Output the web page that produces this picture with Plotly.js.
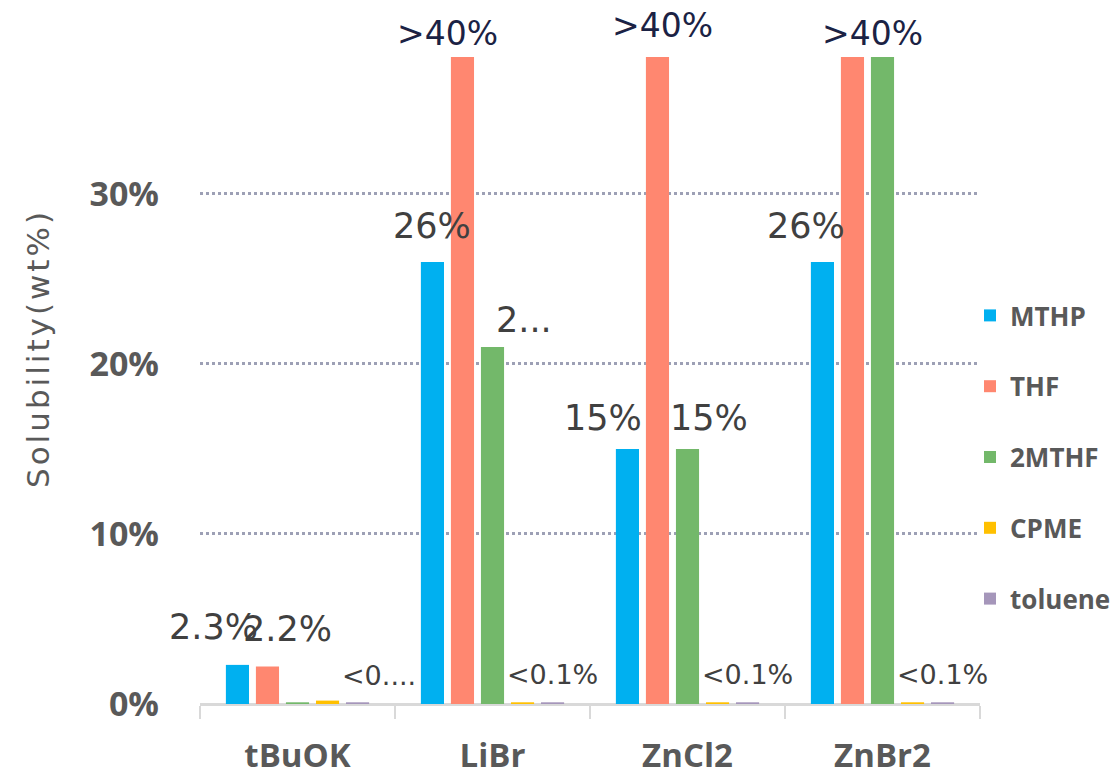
<!DOCTYPE html>
<html>
<head>
<meta charset="utf-8">
<script src="https://cdn.plot.ly/plotly-3.0.1.min.js"></script>
<style>
html,body{margin:0;padding:0;background:#fff;}
#chart{width:1112px;height:774px;}
.ytitle{letter-spacing:3px;}
.g-ytitle{transform:translate(0px,-32px);}
</style>
</head>
<body>
<div id="chart"></div>
<script>
// ---- data ----
const categories = ['tBuOK', 'LiBr', 'ZnCl2', 'ZnBr2'];
const seriesNames = ['MTHP', 'THF', '2MTHF', 'CPME', 'toluene'];
const mthp    = [2.3, 26, 15, 26];
const thf     = [2.2, 40, 40, 40];
const mthf2   = [0.1, 21, 15, 40];
const cpme    = [0.2, 0.1, 0.1, 0.1];
const toluene = [0.1, 0.1, 0.1, 0.1];
const mthpLabels    = ['2.3%', '26%', '15%', '26%'];
const thfLabels     = ['2.2%', '', '', ''];
const mthf2Labels   = ['', '2...', '15%', ''];
const cpmeLabels    = ['', '', '', ''];
const tolueneLabels = ['<0....', '<0.1%', '<0.1%', '<0.1%'];
const overLabels    = ['', '>40%', '>40%', '>40%'];   // THF bars beyond the axis
const yTickVals  = [0, 10, 20, 30];
const yTickText  = ['0%', '10%', '20%', '30%'];
const yTitle = 'Solubility(wt%)';

// ---- styles ----
const colors = ['#00B0F0', '#FF8770', '#73B86A', '#FFC000', '#A596BA'];
const values = [mthp, thf, mthf2, cpme, toluene];
const labels = [mthpLabels, thfLabels, mthf2Labels, cpmeLabels, tolueneLabels];
const yMax = 38.05;
const W = 1112, H = 774;
const margin = {l: 200, r: 132, t: 57, b: 70, autoexpand: false};
const bargap = 0.23, bargroupgap = 0.23;
const plotW = W - margin.l - margin.r;
const pitch = (plotW / categories.length) * (1 - bargap) / seriesNames.length;

// label nudges (px): [series][category] -> [dx, dy above bar top]
const nudge = {
  '0,0': [-24, 38], '0,1': [0, 36], '0,2': [-24, 31], '0,3': [-16, 36],
  '1,0': [20, 38],
  '2,1': [31, 27], '2,2': [21, 31],
  '4,0': [21, 27], '4,1': [0, 28], '4,2': [0, 28], '4,3': [0, 28]
};
const overNudge = [[0, 0], [-15, 24], [5, 32], [20, 24]];

const traces = seriesNames.map((name, i) => ({
  type: 'bar',
  name: name,
  x: categories,
  y: values[i],
  marker: {color: colors[i]},
  legendgroup: 'g' + i,
  hoverinfo: 'x+y+name'
}));

const annotations = [];
labels.forEach((arr, i) => {
  arr.forEach((t, j) => {
    if (!t) return;
    const n = nudge[i + ',' + j] || [0, 30];
    const small = t.startsWith('<');
    annotations.push({
      x: categories[j], xref: 'x',
      y: Math.min(values[i][j], yMax), yref: 'y',
      text: t, showarrow: false,
      xanchor: 'center', yanchor: 'middle',
      xshift: (i - (seriesNames.length - 1) / 2) * pitch + n[0],
      yshift: n[1],
      font: {family: 'DejaVu Sans', size: small ? 27 : 35, color: '#404040'}
    });
  });
});
overLabels.forEach((t, j) => {
  if (!t) return;
  annotations.push({
    x: categories[j], xref: 'x',
    y: 1, yref: 'paper',
    text: t, showarrow: false,
    xanchor: 'center', yanchor: 'middle',
    xshift: (1 - (seriesNames.length - 1) / 2) * pitch + overNudge[j][0],
    yshift: overNudge[j][1],
    font: {family: 'DejaVu Sans', size: 33, color: '#1B2244'}
  });
});

const layout = {
  width: W, height: H,
  margin: margin,
  paper_bgcolor: '#ffffff',
  plot_bgcolor: '#ffffff',
  barmode: 'group',
  bargap: bargap,
  bargroupgap: bargroupgap,
  showlegend: true,
  legend: {
    xref: 'container', yref: 'container',
    x: 970 / W, y: 1 - 292 / H,
    xanchor: 'left', yanchor: 'top',
    font: {family: 'Open Sans', size: 26, color: '#595959', weight: 'bold'},
    tracegroupgap: 34,
    bgcolor: 'rgba(0,0,0,0)'
  },
  xaxis: {
    type: 'category',
    range: [-0.5, categories.length - 0.5],
    autorange: false,
    automargin: false,
    tickson: 'boundaries',
    ticks: 'outside',
    ticklen: 13,
    tickwidth: 2,
    tickcolor: '#D9D9D9',
    showline: true,
    linecolor: '#D9D9D9',
    linewidth: 2,
    showgrid: false,
    ticklabelstandoff: 21,
    tickfont: {family: 'Open Sans', size: 33, color: '#595959', weight: 'bold'}
  },
  yaxis: {
    range: [0, yMax],
    autorange: false,
    automargin: false,
    tickvals: yTickVals,
    ticktext: yTickText,
    showgrid: true,
    gridcolor: '#9DA0B5',
    gridwidth: 3,
    griddash: 'dot',
    zeroline: true,
    zerolinecolor: '#D9D9D9',
    zerolinewidth: 2,
    showline: false,
    ticks: '',
    ticklabelstandoff: 40,
    tickfont: {family: 'Open Sans', size: 34, color: '#595959', weight: 'bold'},
    title: {
      text: yTitle,
      font: {family: 'DejaVu Sans', size: 31, color: '#595959'},
      standoff: 30
    }
  },
  annotations: annotations
};

Plotly.newPlot('chart', traces, layout, {displayModeBar: false, staticPlot: true});
</script>
</body>
</html>
